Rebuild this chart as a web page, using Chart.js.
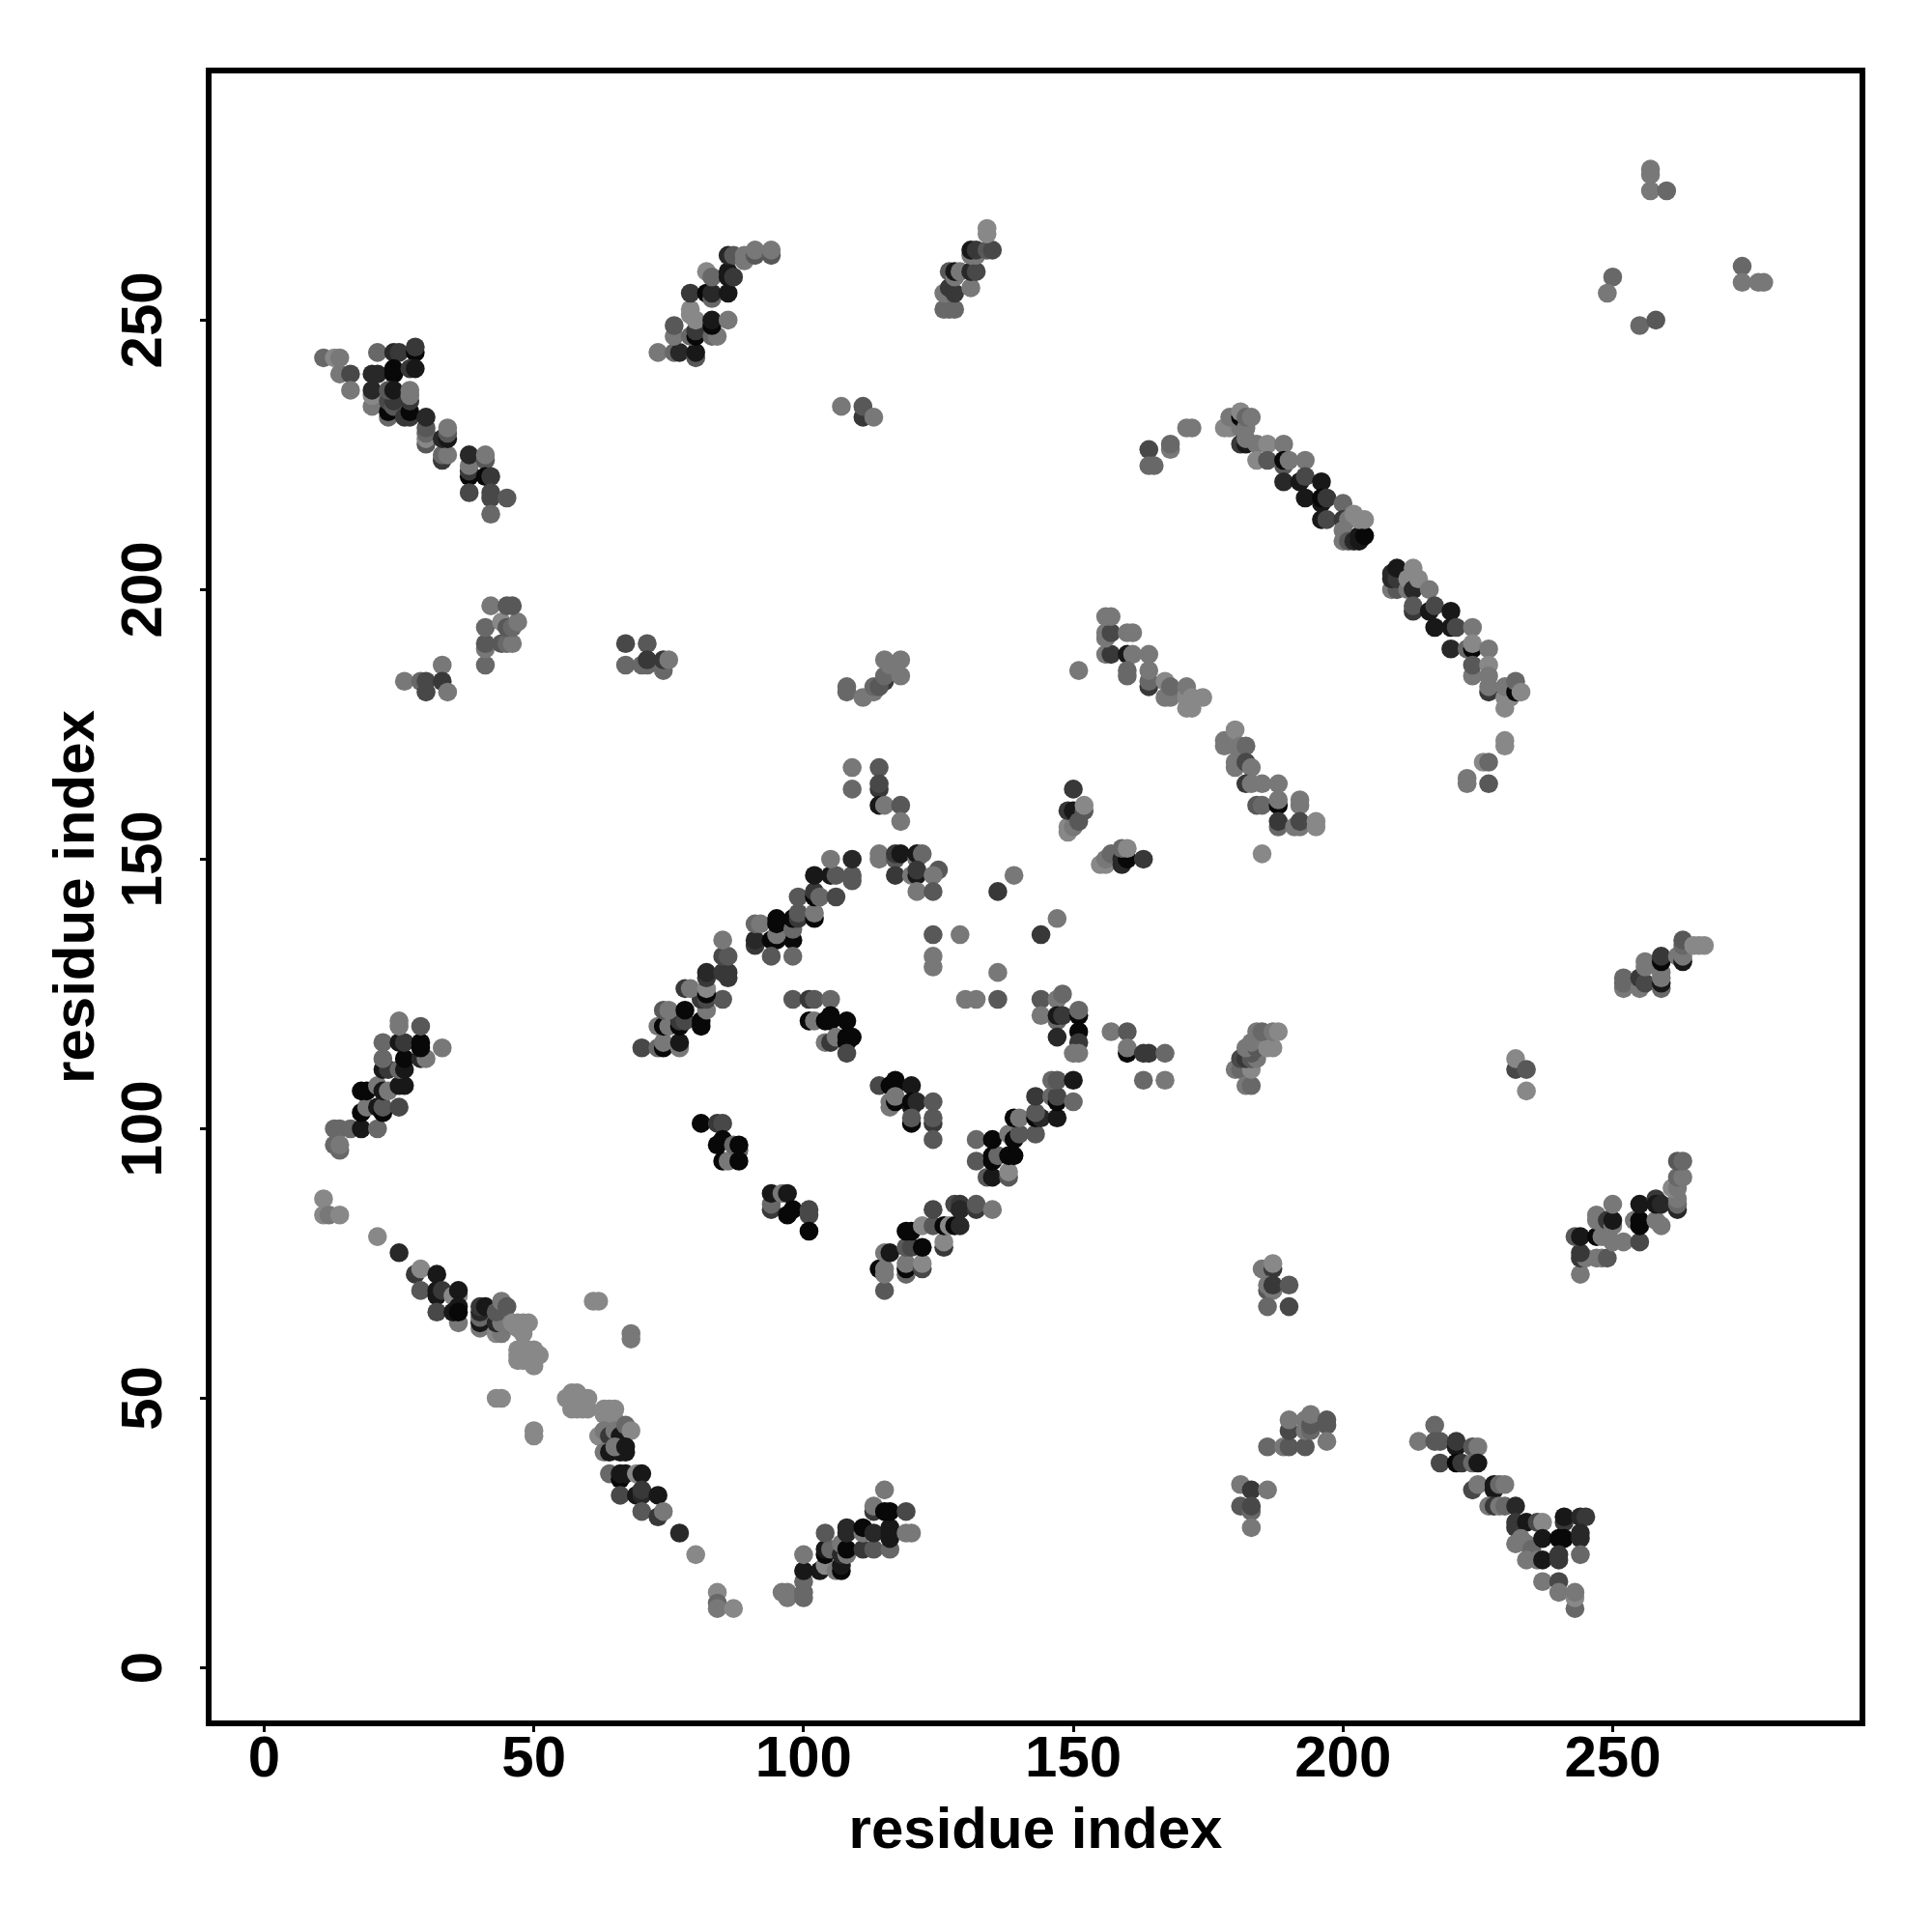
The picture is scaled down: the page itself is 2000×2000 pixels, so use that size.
<!DOCTYPE html>
<html>
<head>
<meta charset="utf-8">
<title>residue contact map</title>
<script src="https://cdn.jsdelivr.net/npm/chart.js@4"></script>
<style>
    body { margin: 0; background: #ffffff; }
    canvas { display: block; }
</style>
</head>
<body>
<canvas id="contact-map" width="2000" height="2000"></canvas>
<script>
// every contact is [residue i, residue j, strength], strength 0 (weak) to 8 (strong)
const lowBandA = [
    [11,87,0],[11,84,0],[12,84,1],[14,84,0],[21,80,0],[25,77,6],
    [28,73,5],[29,74,0],[32,73,7],[29,70,3],[32,69,7],[32,70,7],[33,70,5],[35,69,0],[36,69,0],[36,70,7],
    [32,66,4],[36,64,1],[35,66,7],[36,67,7],[36,66,8],
    [40,63,1],[40,64,7],[40,65,2],[40,66,6],[40,67,5],[41,67,7],[43,62,0],[44,62,1],[43,64,6],[44,64,1],[43,66,3],
    [44,68,1],[45,67,3],[46,64,0],[47,64,0],[48,64,0],[49,64,0],[47,63,0],[48,62,0],
    [47,59,0],[47,58,0],[47,57,0],[48,57,0],[49,58,0],[49,59,0],[50,59,0],[51,58,0],[50,57,0],[50,56,0]
];
const lowBandSingles = [
    [61,68,0],[62,68,0],[68,62,1],[68,61,1],[43,50,0],[44,50,0],[50,44,0],[50,43,0]
];
const lowBandB = [
    [56,50,0],[57,51,0],[58,51,0],[59,50,0],[60,50,0],[57,48,0],[58,48,0],[59,48,0],[60,48,0],
    [63,48,0],[64,48,0],[65,48,0],[63,47,0],[64,47,0],[65,46,0],
    [62,43,0],[63,44,1],[64,43,5],[65,44,1],[66,43,7],[67,45,2],[68,44,0],
    [63,40,1],[64,40,7],[66,40,7],[67,40,7],[65,41,1],[67,41,7],
    [64,36,2],[66,35,8],[66,36,7],[67,36,7],[69,36,0],[70,36,7],
    [66,32,4],[69,32,7],[70,32,6],[70,33,5],[73,32,7],[70,29,3],[73,28,5],[74,29,1],
    [77,25,6],[80,21,0],[84,14,0],[84,12,2],[84,11,1],[87,11,0]
];
const leftLadder = [
    [13,100,2],[14,100,2],[16,100,2],[13,97,2],[14,96,2],[14,97,1],[18,100,7],[21,100,2],
    [18,103,8],[19,104,1],[21,104,7],[22,103,8],[22,104,3],[25,104,4],
    [18,107,8],[19,107,8],[21,108,1],[22,107,7],[23,107,1],[25,108,7],[26,108,7],
    [22,111,7],[23,111,5],[25,111,2],[26,111,7],[22,113,2],[26,113,8],[29,113,6],[30,113,1],
    [22,116,2],[25,116,7],[26,116,5],[29,115,8],[29,116,8],[33,115,1],[25,119,1],[25,120,1],[29,119,3]
];
const midLadderUp = [
    [70,115,4],[73,115,2],[74,115,8],[74,116,1],[77,115,1],[77,116,7],
    [73,119,1],[74,119,8],[75,119,1],[77,119,8],[77,120,5],[78,120,4],[81,119,8],[81,120,8],
    [74,122,3],[75,122,1],[78,122,8],[82,122,1],[81,124,5],[82,124,4],[85,124,3],
    [78,126,5],[79,126,1],[82,125,8],[82,126,0],[82,128,5],[82,129,6],[85,129,5],[86,128,5],[86,129,5],
    [85,132,4],[86,132,3],[85,135,1],
    [91,134,5],[91,135,6],[94,135,8],[95,135,8],[94,132,3],[98,135,8],[98,132,2],[95,136,1],
    [91,138,2],[92,138,1],[95,138,8],[95,139,8],[98,137,2],[98,139,8],[99,139,5],[99,140,3],
    [102,139,8],[102,140,1],[99,143,3],[102,143,8],[102,144,5],[103,143,2],[106,143,4],
    [102,147,7],[105,147,7],[106,147,3],[105,150,1],[109,146,3],[109,147,3],[109,150,6]
];
const midTopRow = [
    [109,167,1],[114,167,3],[109,163,2],[114,163,5],[114,164,4],[114,160,7],[115,160,1],[118,160,3],[118,157,1],
    [114,150,1],[114,151,1],[117,150,3],[117,151,5],[118,151,7],[121,150,1],[121,151,7],[122,151,2],
    [117,147,5],[120,147,1],[121,147,7],[121,148,5],[125,148,3],[124,147,1],[121,144,1],[124,144,3],
    [139,147,1],[136,144,5],[147,139,1],[144,136,5],
    [124,136,3],[129,136,1],[124,132,1],[124,130,1],[136,129,1],[130,124,1],[132,124,1],[136,124,3]
];
const midRightKnot = [
    [144,124,3],[144,121,1],[147,124,1],[148,125,2],[147,120,2],[147,121,7],[148,121,5],
    [151,121,8],[151,122,2],[151,118,8],[151,116,5],[147,117,6],[150,114,1],[151,114,1],
    [157,118,1],[160,118,3],[160,114,8],[160,115,1],[163,114,5],[164,114,5],[167,114,2],[163,109,2],[167,109,1]
];
const centreBlocks = [
    [98,124,3],[101,124,5],[102,124,3],[105,124,2],
    [101,120,8],[102,120,1],[104,120,8],[105,120,8],[105,121,8],[108,120,8],
    [104,116,1],[105,116,5],[106,117,1],[108,116,8],[108,117,8],[109,117,8],[108,114,4],
    [114,108,4],[116,108,8],[117,108,8],[117,109,8],[120,108,7],[116,104,1],[116,105,1],[117,105,8],[117,106,1],
    [120,104,7],[120,105,8],[121,105,6],[124,105,3],[120,101,8],[120,102,3],[124,101,5],[124,102,3],[124,98,3],
    [81,101,8],[84,101,5],[85,101,4],[84,97,8],[85,98,8],[85,94,8],[86,94,1],[87,97,2],[88,96,2],[88,97,8],[88,94,8],
    [94,85,5],[94,86,2],[94,88,7],[96,88,1],[97,88,7],[97,84,8],[98,85,8],[101,84,4],[101,85,4],[101,81,8]
];
const midLadderDown = [
    [115,70,3],[114,74,8],[115,73,1],[115,74,1],[119,73,2],[119,74,8],[119,75,1],[122,74,4],[122,75,0],
    [115,77,1],[116,77,7],[119,78,3],[120,78,4],[122,78,8],[126,78,5],[126,79,0],
    [119,81,8],[120,81,8],[122,82,0],[124,82,3],[126,82,8],[127,82,0],[128,82,8],[129,82,6],[124,85,4],
    [128,86,4],[129,86,5],[129,85,6],[132,85,5],[132,86,3],[135,85,1],
    [134,91,3],[135,91,7],[138,91,3],[138,92,0],[132,94,3],[135,94,8],[135,95,8],[136,95,2],[138,95,8],[139,95,8],
    [132,98,2],[135,98,8],[138,99,1],[139,98,8],[140,99,3],[143,99,3],
    [139,102,8],[140,102,1],[143,102,8],[144,102,6],[143,103,3],[147,102,7],
    [143,106,5],[146,106,2],[147,105,8],[147,106,4],[150,105,2],[146,109,2],[147,109,3],[150,109,7]
];
const bottomRow = [
    [96,14,1],[97,13,1],[97,14,1],[100,13,2],[100,14,2],[100,16,2],[100,18,7],[100,21,1],
    [103,18,7],[104,19,0],[104,21,8],[104,22,7],[105,22,2],[104,25,3],[106,18,1],[107,18,8],[107,19,7],
    [107,21,6],[107,23,1],[108,21,1],[108,22,8],[108,25,6],[108,26,6],[111,22,5],[111,25,1],[111,26,8],
    [113,22,3],[113,25,6],[116,22,2],[116,24,7],[116,25,7],[116,26,7],[119,25,1],[120,25,1],
    [113,29,5],[113,30,1],[115,29,8],[116,29,8],[119,29,4],[115,33,1]
];
const bottomRight = [
    [181,34,1],[183,33,5],[186,33,1],[181,30,3],[183,29,2],[183,30,4],[183,26,1],
    [186,41,2],[189,41,1],[190,41,3],[193,41,3],[190,44,4],[190,46,1],[193,44,1],[193,46,1],[194,44,2],[194,45,3],[194,47,1],
    [197,45,3],[197,46,3],[197,42,1],
    [214,42,1],[217,45,2],[217,42,3],[218,42,3],[221,41,7],[221,42,5],[224,41,3],[225,41,1],
    [218,38,4],[221,38,8],[222,38,5],[224,38,2],[225,38,7],
    [224,33,4],[225,34,1],[228,33,7],[228,34,7],[229,34,2],[230,34,1],
    [227,30,1],[228,30,5],[229,30,1],[230,30,2],[232,30,6],
    [232,26,5],[232,27,5],[234,27,7],[236,27,4],[237,27,0],
    [232,23,1],[234,23,1],[233,24,1],[235,22,2],[236,20,1],[234,20,1],[237,24,7],[237,20,7],
    [241,27,5],[241,28,7],[244,28,6],[245,28,5],[240,24,8],[241,24,8],[244,24,6],[244,25,6],[244,21,2],
    [240,20,5],[240,21,5],[237,16,1],[240,16,4],[240,14,1],[243,11,2],[243,13,0],[243,14,1]
];
const lowerRightPair = [
    [185,74,1],[187,74,5],[187,75,0],[186,70,3],[186,71,1],[187,70,1],[187,71,5],[190,71,3],[186,67,2],[190,67,4],
    [180,111,1],[181,111,2],[182,108,1],[183,108,2],[183,111,0],[181,113,4],[182,113,5],[183,113,3],[184,113,1],
    [183,114,3],[182,115,1],[184,115,3],[183,116,1],[186,115,0],[187,115,0],
    [184,118,1],[185,118,2],[187,118,1],[188,118,0],
    [232,111,4],[232,113,0],[234,111,3],[234,107,0]
];
const rightLowBlock = [
    [244,73,1],[244,76,5],[245,76,1],[247,76,1],[248,76,1],[249,76,3],[244,77,5],[243,80,3],[244,80,7],
    [249,80,4],[247,80,8],[248,80,1],[250,79,1],[252,79,1],[255,79,4],
    [247,83,1],[247,84,1],[249,83,5],[250,82,1],[250,83,7],[250,86,1],
    [254,83,1],[255,82,8],[255,83,8],[255,86,7],[258,83,1],[259,82,1],
    [258,87,5],[258,86,7],[259,86,6],[262,85,6],[262,86,2],[262,87,1],[261,89,0],[262,89,1],
    [262,91,2],[263,91,1],[262,94,3],[263,94,2]
];
const rightUpBlock = [
    [252,126,1],[252,127,2],[252,128,2],[255,126,1],[255,128,5],[256,127,4],[256,130,1],[256,131,1],
    [259,126,2],[259,127,7],[259,128,1],[259,129,1],[259,131,8],[259,132,5],
    [262,132,1],[263,131,7],[263,132,1],[263,134,2],[263,135,3],[265,134,0],[266,134,0],[267,134,0]
];
const topLeftBand = [
    [11,243,2],[13,243,0],[14,243,1],[14,240,1],[16,240,4],[16,237,1],[21,244,2],[24,244,6],[25,244,5],[28,244,8],[28,245,5],
    [20,240,6],[21,240,6],[24,240,8],[24,241,8],[27,241,5],[28,241,7],
    [20,234,1],[20,236,0],[20,237,6],[23,232,2],[23,233,8],[23,235,4],[24,234,3],[24,235,5],[23,237,3],[24,237,7],
    [26,232,5],[27,232,5],[27,233,8],[27,235,5],[27,236,1],[27,237,1],
    [30,227,3],[30,228,0],[30,229,2],[30,230,3],[30,232,6],[33,224,5],[33,225,2],[34,225,1],[33,228,6],[34,228,7],[34,229,3],[34,230,1],
    [38,221,8],[38,222,5],[38,223,1],[38,225,6],[38,218,4],[41,224,3],[41,225,1],[41,221,8],[42,221,5],[42,217,4],[42,218,4],[45,217,3],[42,214,2]
];
const upperLeftSpots = [
    [26,183,1],[29,183,2],[30,183,4],[30,181,4],[33,186,1],[33,183,5],[34,181,1],
    [41,186,2],[41,189,1],[41,190,3],[41,193,2],[44,190,3],[45,190,2],[46,190,1],[44,194,0],[45,193,3],[46,193,2],[47,194,1],
    [42,197,1],[45,197,3],[46,197,3],
    [67,190,4],[71,190,3],[67,186,2],[70,186,2],[71,186,2],[71,187,5],[74,185,2],[74,187,5],[75,187,1]
];
const topBandA = [
    [73,244,1],[76,244,2],[77,244,6],[80,243,3],[80,244,7],[76,247,1],[76,249,3],
    [79,247,2],[80,247,8],[80,248,5],[79,251,0],[79,252,0],[80,250,0],
    [83,247,2],[84,247,1],[83,249,8],[83,250,7],[86,250,1],
    [79,255,5],[82,255,8],[83,254,2],[83,255,6],[86,255,7],
    [82,259,0],[83,258,2],[86,258,7],[86,259,7],[87,258,5],
    [86,262,6],[87,262,3],[89,261,1],[89,262,1],[91,262,3],[91,263,1],[94,262,3],[94,263,1]
];
const topBandB = [
    [126,252,2],[127,252,2],[128,252,2],[126,255,1],[127,256,5],[128,255,5],[131,256,1],
    [127,259,3],[128,258,1],[128,259,7],[129,259,1],[131,259,6],[132,259,4],
    [131,262,1],[132,262,1],[131,263,7],[132,263,5],[134,263,3],[135,263,4],[134,266,0],[134,267,0],
    [107,234,1],[111,232,5],[111,234,3],[113,232,1]
];
const topRightSpots = [
    [257,278,1],[257,277,1],[257,274,1],[260,274,2],[250,258,2],[249,255,1],[255,249,2],[258,250,3],
    [274,260,2],[274,257,1],[277,257,1],[278,257,1]
];
const archLeft = [
    [164,226,4],[164,223,2],[165,223,2],[168,226,1],[168,227,2],[171,230,1],[172,230,1],
    [156,188,1],[157,188,5],[156,191,1],[156,192,1],[157,192,4],[156,195,1],[157,195,1],[160,192,1],[161,192,1],
    [160,188,7],[161,188,1],[164,188,1],[160,184,2],[160,185,2],[164,182,5],[164,183,2],[164,185,1],
    [167,180,1],[167,183,0],[168,180,1],[168,182,2],[171,178,0],[171,180,0],[171,182,1],[172,178,0],[172,180,0],[174,180,0],
    [178,171,1],[178,172,1],[180,167,1],[180,168,1],[180,171,1],[180,174,0],[181,171,1],[182,171,2],
    [182,168,4],[183,167,1],[182,164,5],[183,164,1],[185,164,1],[188,164,1],
    [184,160,3],[185,160,2],[188,160,8],[188,161,1],[192,160,1],[192,161,1],
    [188,156,2],[188,157,5],[191,156,1],[192,156,1],[192,157,4],[195,156,0],[195,157,0],[185,151,0]
];
const midFlanks = [
    [108,181,2],[108,182,2],[111,180,1],[113,181,1],[113,182,2],[115,183,5],[114,182,3],[115,184,2],[116,186,1],
    [115,187,1],[118,184,1],[118,187,1],[151,185,1],
    [149,155,0],[149,156,0],[150,156,1],[149,159,5],[150,159,7],[150,163,5],[151,157,3],[152,159,3],[152,160,0],
    [155,149,0],[156,149,0],[156,150,1],[157,151,2],[159,149,6],[159,150,6],[160,150,8],[159,152,2],[160,152,0],[163,150,5]
];
const archRight = [
    [178,230,0],[179,230,0],[179,232,1],[181,230,1],[181,232,8],[181,233,0],[182,230,1],[182,232,2],[183,232,1],
    [181,227,5],[182,227,7],[182,228,1],[184,227,1],[186,227,0],[189,227,1],
    [184,224,0],[186,224,3],[189,223,3],[189,224,8],[190,224,1],[193,224,1],
    [189,220,6],[192,220,7],[193,221,4],[196,220,7],[193,217,7],[196,216,7],[196,217,8],[197,217,5],
    [196,213,7],[197,213,4],[200,216,2],[200,213,5],[201,213,1],[200,209,1],[200,211,1],[201,209,3],
    [202,209,6],[203,209,7],[203,210,7],[204,210,8],[202,214,0],[203,213,0],[204,213,0],
    [209,200,1],[210,200,3],[209,202,6],[209,203,6],[210,202,5],[210,204,7],[212,200,1],[212,202,0],
    [213,200,6],[213,204,0],[214,202,0],[216,200,1],
    [213,196,5],[213,197,3],[216,196,7],[217,197,4],[220,196,7],[217,193,7],[220,193,7],[221,193,4],
    [220,189,6],[224,193,1],[223,189,2],[224,189,8],[224,190,0],[227,189,1],
    [224,184,1],[224,186,3],[227,186,0],[227,184,1],[227,181,5],[227,182,1],
    [230,178,0],[230,180,0],[231,180,0],[230,182,1],[231,182,1],[232,181,8],[232,183,2],[233,181,0],
    [230,171,0],[230,172,0],[226,168,0],[227,168,2],[223,164,1],[223,165,1],[227,164,3]
];

const allContacts = [lowBandA, lowBandSingles, lowBandB, leftLadder, midLadderUp, midTopRow, midRightKnot, centreBlocks,
    midLadderDown, bottomRow, bottomRight, lowerRightPair, rightLowBlock, rightUpBlock, topLeftBand, upperLeftSpots,
    topBandA, topBandB, topRightSpots, archLeft, midFlanks, archRight].flat();

const tickValues = [0, 50, 100, 150, 200, 250];
const axisTitle = "residue index";
const fontFamily = "'Liberation Sans', Arial, sans-serif";

/**
 * Maps a contact strength to its gray fill
 * @param {number} strength 0 to 8
 */
function strengthColor(strength) {
    let g = 136 - 16 * strength;
    return "rgb(" + g + "," + g + "," + g + ")";
}

/**
 * Sets a fixed axis tick list
 */
function useTickValues(scale) {
    scale.ticks = tickValues.map(v => ({ value: v }));
}

// frame round the plot and the sideways y tick labels
const framePlugin = {
    id: "frame",
    afterDraw(chart) {
        let ctx = chart.ctx;
        let area = chart.chartArea;
        ctx.save();
        ctx.strokeStyle = "#000000";
        ctx.lineWidth = 6;
        ctx.lineJoin = "miter";
        ctx.strokeRect(area.left, area.top, area.right - area.left, area.bottom - area.top);
        ctx.fillStyle = "#000000";
        ctx.font = "bold 60px " + fontFamily;
        ctx.textAlign = "center";
        ctx.textBaseline = "middle";
        tickValues.forEach(v => {
            ctx.save();
            ctx.translate(148, chart.scales.y.getPixelForValue(v));
            ctx.rotate(-Math.PI / 2);
            ctx.fillText(String(v), 0, 2);
            ctx.restore();
        });
        ctx.restore();
    }
};

new Chart(document.getElementById("contact-map"), {
    type: "scatter",
    data: {
        datasets: [{
            label: "contacts",
            data: allContacts.map(c => ({ x: c[0], y: c[1] })),
            backgroundColor: allContacts.map(c => strengthColor(c[2])),
            borderWidth: 0,
            pointRadius: 9.8,
            pointHoverRadius: 9.8
        }]
    },
    options: {
        animation: false,
        responsive: false,
        devicePixelRatio: 1,
        events: [],
        layout: { padding: { left: 44, right: 72, top: 73, bottom: 68 } },
        plugins: { legend: { display: false }, tooltip: { enabled: false } },
        scales: {
            x: {
                type: "linear",
                min: -10.3,
                max: 296.3,
                afterBuildTicks: useTickValues,
                afterFit: s => { s.height = 148; },
                border: { display: false },
                grid: { drawOnChartArea: false, tickLength: 9, tickWidth: 3, tickColor: "#000000" },
                ticks: {
                    color: "#000000",
                    padding: -7,
                    maxRotation: 0,
                    autoSkip: false,
                    font: { family: fontFamily, size: 60, weight: "bold" }
                },
                title: {
                    display: true,
                    text: axisTitle,
                    color: "#000000",
                    padding: 0,
                    font: { family: fontFamily, size: 60, weight: "bold" }
                }
            },
            y: {
                type: "linear",
                min: -10.3,
                max: 296.3,
                afterBuildTicks: useTickValues,
                afterFit: s => { s.width = 172; },
                border: { display: false },
                grid: { drawOnChartArea: false, tickLength: 9, tickWidth: 3, tickColor: "#000000" },
                ticks: { display: false },
                title: {
                    display: true,
                    text: axisTitle,
                    color: "#000000",
                    padding: 0,
                    font: { family: fontFamily, size: 60, weight: "bold" }
                }
            }
        }
    },
    plugins: [framePlugin]
});
</script>
</body>
</html>
